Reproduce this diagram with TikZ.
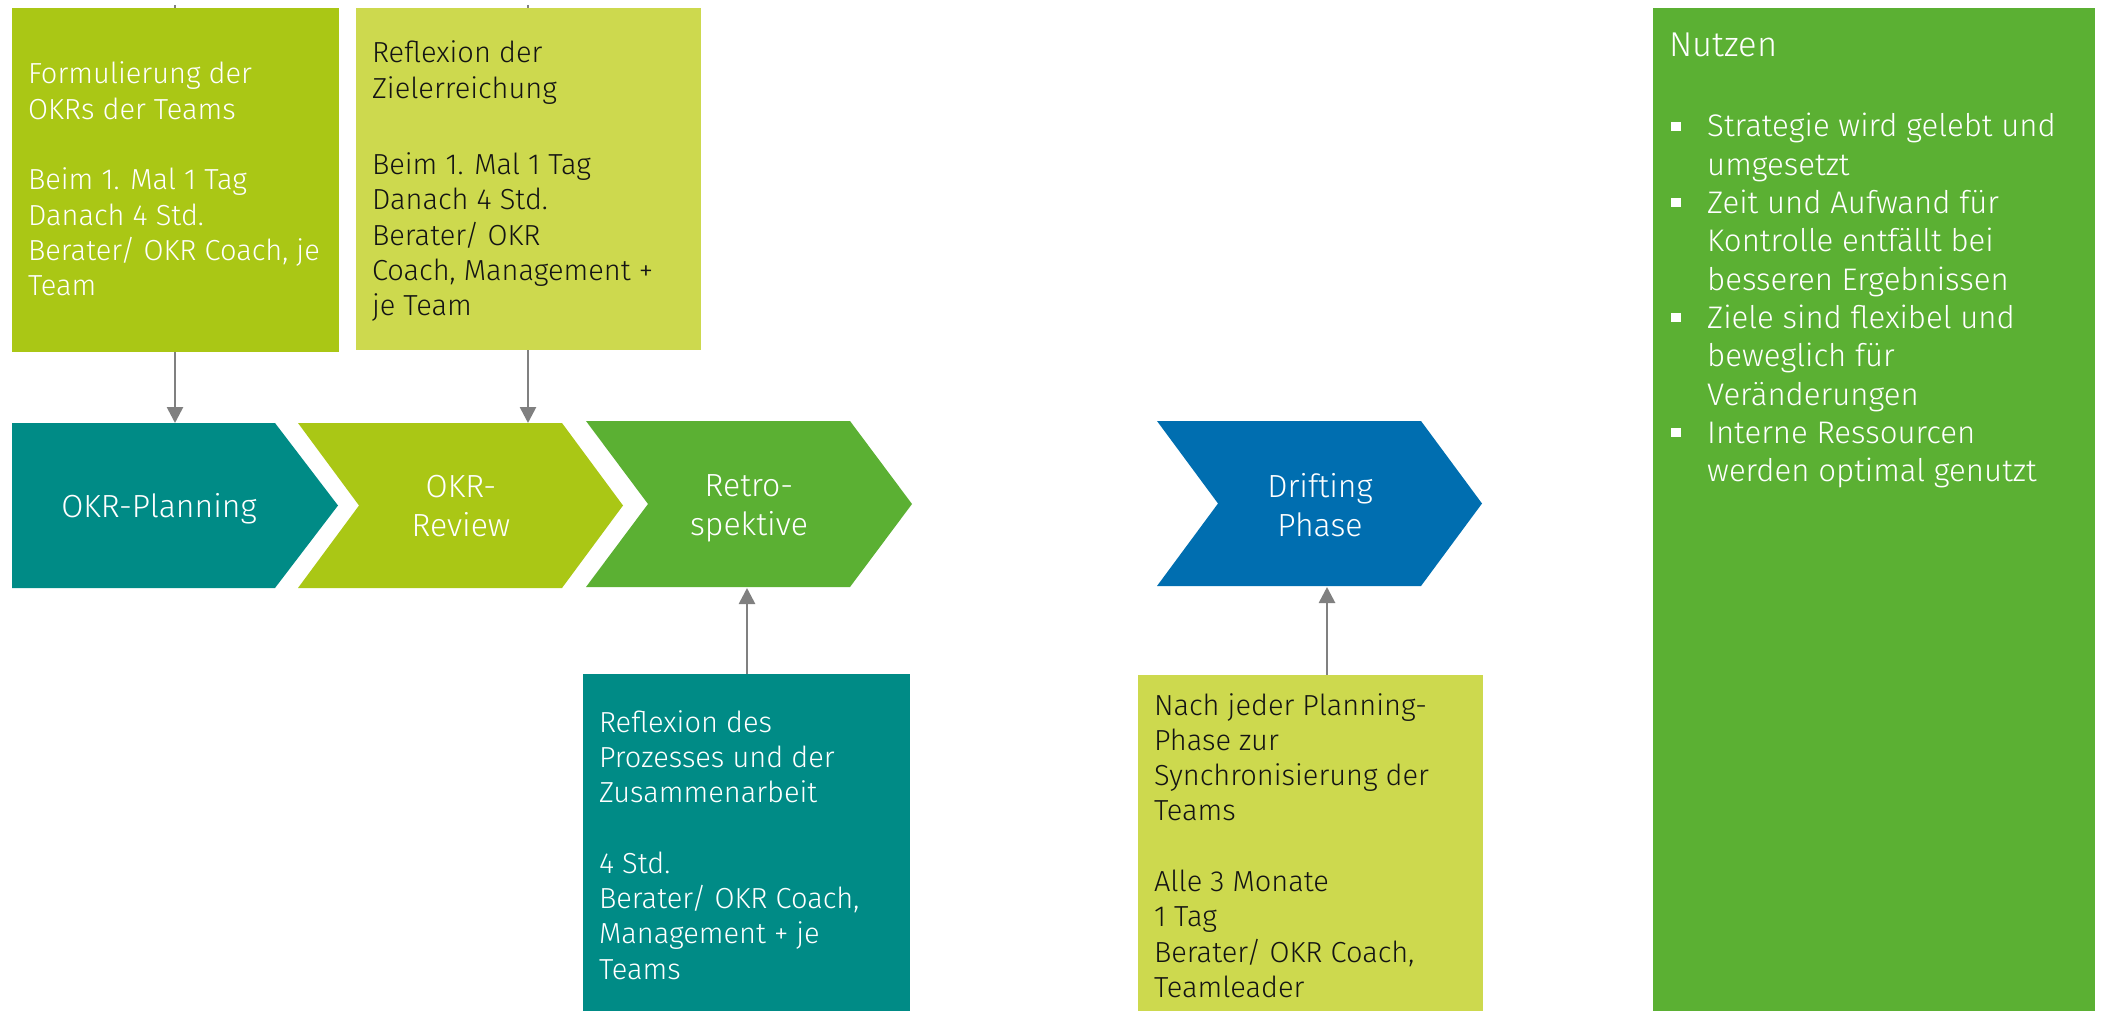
\documentclass[tikz,border=0pt]{standalone}
\usepackage{fontspec}
\IfFontExistsTF{Fira Sans Light}{\setmainfont{Fira Sans Light}}{\setmainfont{Fira Sans}}
\usetikzlibrary{arrows.meta}
\definecolor{limeA}{HTML}{AAC715}
\definecolor{limeB}{HTML}{CDD94E}
\definecolor{tealC}{HTML}{008B86}
\definecolor{greenC}{HTML}{5BB033}
\definecolor{blueC}{HTML}{006EB0}
\definecolor{arrG}{HTML}{808080}
\definecolor{inkC}{HTML}{141414}
\newcommand{\boxfont}{\fontsize{29pt}{35.3pt}\selectfont}
\newcommand{\chevfont}{\fontsize{32pt}{39pt}\selectfont}
\newcommand{\listfont}{\fontsize{31.2pt}{38.33pt}\selectfont}
\begin{document}
\begin{tikzpicture}[x=1pt,y=-1pt,
  panel/.style={draw=none,inner sep=0pt,outer sep=0pt,anchor=north west},
  boxtext/.style={inner sep=0pt,outer sep=0pt,anchor=base west,font=\boxfont},
  chevtext/.style={inner sep=0pt,outer sep=0pt,anchor=base,font=\chevfont,text=white,align=center},
  arr/.style={draw=arrG,line width=2.7pt,-{Triangle[length=16pt,width=16pt]}}]
\useasboundingbox (0,0) rectangle (2103,1011);
% connector start/end points
\coordinate (a1s) at (175,5);
\coordinate (c1top) at (175,423);
\coordinate (a2s) at (528,5);
\coordinate (c2top) at (528,423);
\coordinate (a3s) at (747,676);
\coordinate (c3bot) at (747,588);
\coordinate (a4s) at (1327,677);
\coordinate (c4bot) at (1327,587);
% connectors (drawn first, boxes cover their tails)
\draw[arr] (a1s) -- (c1top);
\draw[arr] (a2s) -- (c2top);
\draw[arr] (a3s) -- (c3bot);
\draw[arr] (a4s) -- (c4bot);
% upper boxes
\node[panel,fill=limeA,minimum width=327pt,minimum height=344pt] (b1) at (12,8) {};
\node[panel,fill=limeB,minimum width=345pt,minimum height=342pt] (b2) at (356,8) {};
% lower boxes
\node[panel,fill=tealC,minimum width=327pt,minimum height=337pt] (b3) at (583,674) {};
\node[panel,fill=limeB,minimum width=345pt,minimum height=336pt] (b4) at (1138,675) {};
% Nutzen panel
\node[panel,fill=greenC,minimum width=442pt,minimum height=1003pt] (nz) at (1653,8) {};
% chevrons
\fill[tealC] (12,423) -- (275,423) -- (338,505.5) -- (275,588) -- (12,588) -- cycle;
\fill[limeA] (298,423) -- (562,423) -- (623,505.5) -- (562,588) -- (298,588) -- (359,505.5) -- cycle;
\fill[greenC] (586,421) -- (850,421) -- (912,504) -- (850,587) -- (586,587) -- (648,504) -- cycle;
\fill[blueC] (1157,421) -- (1421,421) -- (1482,503.5) -- (1421,586) -- (1157,586) -- (1218,503.5) -- cycle;
% chevron labels
\node[chevtext] (c1) at (159,517) {OKR-Planning};
\node[chevtext] (c2) at (461,497) {\parbox[t]{300pt}{\centering OKR-\\Review}};
\node[chevtext] (c3) at (749,496) {\parbox[t]{300pt}{\centering Retro-\\spektive}};
\node[chevtext] (c4) at (1320,497) {\parbox[t]{300pt}{\centering Drifting\\Phase}};
% box texts
\node[boxtext,text=white] (t1) at (28,84) {\parbox[t]{320pt}{Formulierung der\\OKRs der Teams\\[35.3pt]Beim 1. Mal 1 Tag\\Danach 4 Std.\\Berater/ OKR Coach, je\\Team}};
\node[boxtext,text=inkC] (t2) at (372,63) {\parbox[t]{330pt}{Reflexion der\\Zielerreichung\\[41pt]Beim 1. Mal 1 Tag\\Danach 4 Std.\\Berater/ OKR\\Coach, Management +\\je Team}};
\node[boxtext,text=white] (t3) at (599,732) {\parbox[t]{320pt}{Reflexion des\\Prozesses und der\\Zusammenarbeit\\[35.3pt]4 Std.\\Berater/ OKR Coach,\\Management + je\\Teams}};
\node[boxtext,text=inkC] (t4) at (1154,715) {\parbox[t]{330pt}{Nach jeder Planning-\\Phase zur\\Synchronisierung der\\Teams\\[35.3pt]Alle 3 Monate\\1 Tag\\Berater/ OKR Coach,\\Teamleader}};
% Nutzen texts
\node[inner sep=0pt,anchor=base west,text=white,font=\fontsize{34.5pt}{40pt}\selectfont] (nzt) at (1669,57) {Nutzen};
\node[inner sep=0pt,anchor=base west,text=white,font=\listfont] (nzl) at (1707,137) {\parbox[t]{390pt}{Strategie wird gelebt und\\umgesetzt\\Zeit und Aufwand für\\Kontrolle entfällt bei\\besseren Ergebnissen\\Ziele sind flexibel und\\beweglich für\\Veränderungen\\Interne Ressourcen\\werden optimal genutzt}};
% bullets
\foreach \yb in {137,213.66,328.65,443.64}{
  \fill[white] (1671,\yb-15.3) rectangle (1681,\yb-6.3);
}
\end{tikzpicture}
\end{document}
